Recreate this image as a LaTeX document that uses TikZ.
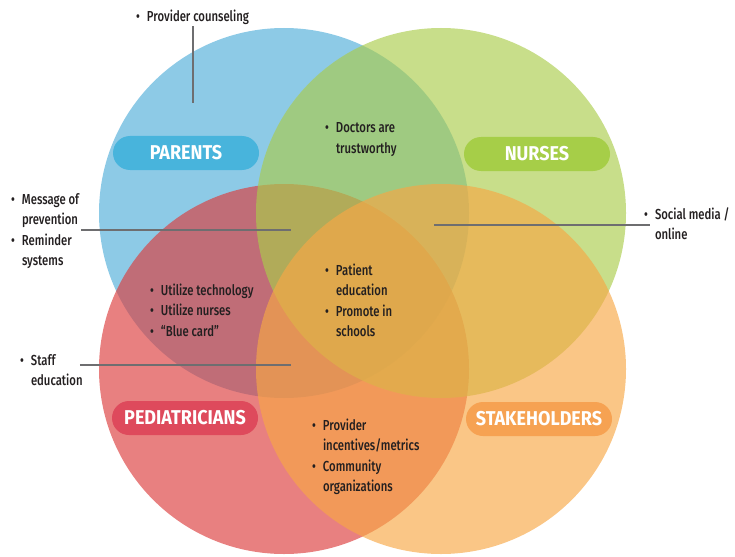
\documentclass[tikz,border=0pt]{standalone}
\usepackage{fontspec}
\setmainfont{Fira Sans}[FakeStretch=0.78, UprightFont=* Medium, BoldFont=* Bold]
\newfontfamily\tagfont{Fira Sans Bold}[FakeStretch=0.9]
\usetikzlibrary{positioning}

% circle colours (used see-through) and label colours
\definecolor{parentsfill}{RGB}{80,173,217}
\definecolor{nursesfill}{RGB}{170,204,75}
\definecolor{pedsfill}{RGB}{220,60,60}
\definecolor{stakefill}{RGB}{247,167,69}
\definecolor{parentstag}{RGB}{72,180,220}
\definecolor{nursestag}{RGB}{166,206,72}
\definecolor{pedstag}{RGB}{222,74,92}
\definecolor{staketag}{RGB}{246,162,82}
\definecolor{notegray}{RGB}{35,31,32}
\definecolor{leadgray}{RGB}{110,110,112}

\tikzset{
    x=1pt, y=-1pt, % work in points, y runs downwards
    set/.style={fill opacity=0.65}, % the four overlapping circles
    tag/.style={rounded corners=17pt, minimum width=146pt, minimum height=34pt, inner sep=0pt,
                text=white, font=\fontsize{20}{20}\tagfont}, % group name pills
    note/.style={anchor=base west, inner sep=0pt, text=notegray,
                 font=\fontsize{14.5}{20.5}\selectfont}, % bullet lists
    lead/.style={draw=leadgray, line width=1.2pt}, % pointer lines
}

\begin{document}
\begin{tikzpicture}
    \useasboundingbox (0,0) rectangle (735,556);

    % the circles: blue, red, green, then orange on top
    \fill[set, parentsfill] (284,213) circle (185);
    \fill[set, pedsfill]    (284,369) circle (185);
    \fill[set, nursesfill]  (441,213) circle (185);
    \fill[set, stakefill]   (441,369) circle (185);

    % group names
    \node[tag, fill=parentstag] (PARENTS) at (186,153) {PARENTS};
    \node[tag, fill=nursestag]  (NURSES)  at (537,154) {NURSES};
    \node[tag, fill=pedstag]    (PEDS)    at (185,418) {PEDIATRICIANS};
    \node[tag, fill=staketag]   (STAKE)   at (539,419) {STAKEHOLDERS};

    % bullet lists
    \node[note] (provnote) at (136,22) {%
        \begin{tabular}[t]{@{}l@{\hspace{7pt}}l@{}} \textbullet & Provider counseling \end{tabular}};
    \node[note] (doctorsnote) at (325,133) {%
        \begin{tabular}[t]{@{}l@{\hspace{7pt}}l@{}} \textbullet & Doctors are\\ & trustworthy \end{tabular}};
    \node[note] (msgnote) at (11,204) {%
        \begin{tabular}[t]{@{}l@{\hspace{7pt}}l@{}} \textbullet & Message of\\ & prevention\\
        \textbullet & Reminder\\ & systems \end{tabular}};
    \node[note] (socialnote) at (644,219) {%
        \begin{tabular}[t]{@{}l@{\hspace{7pt}}l@{}} \textbullet & Social media /\\ & online \end{tabular}};
    \node[note] (patientnote) at (325,275) {%
        \begin{tabular}[t]{@{}l@{\hspace{7pt}}l@{}} \textbullet & Patient\\ & education\\
        \textbullet & Promote in\\ & schools \end{tabular}};
    \node[note] (utilnote) at (150,295) {%
        \begin{tabular}[t]{@{}l@{\hspace{7pt}}l@{}} \textbullet & Utilize technology\\
        \textbullet & Utilize nurses\\ \textbullet & ``Blue card'' \end{tabular}};
    \node[note] (staffnote) at (20,365) {%
        \begin{tabular}[t]{@{}l@{\hspace{7pt}}l@{}} \textbullet & Staff\\ & education \end{tabular}};
    \node[note] (incentnote) at (312,430) {%
        \begin{tabular}[t]{@{}l@{\hspace{7pt}}l@{}} \textbullet & Provider\\ & incentives/metrics\\
        \textbullet & Community\\ & organizations \end{tabular}};

    % pointer lines
    \coordinate (provtip)   at (193,103);
    \coordinate (msgtip)    at (291,230);
    \coordinate (socialtip) at (434,225);
    \coordinate (stafftip)  at (291,365);
    \draw[lead] ([yshift=2pt]provtip |- provnote.south) -- (provtip);
    \draw[lead] ([xshift=2pt]msgnote.east |- msgtip) -- (msgtip);
    \draw[lead] (socialtip) -- ([xshift=6pt]socialnote.west |- socialtip);
    \draw[lead] ([xshift=-3pt]staffnote.east |- stafftip) -- (stafftip);
\end{tikzpicture}
\end{document}
